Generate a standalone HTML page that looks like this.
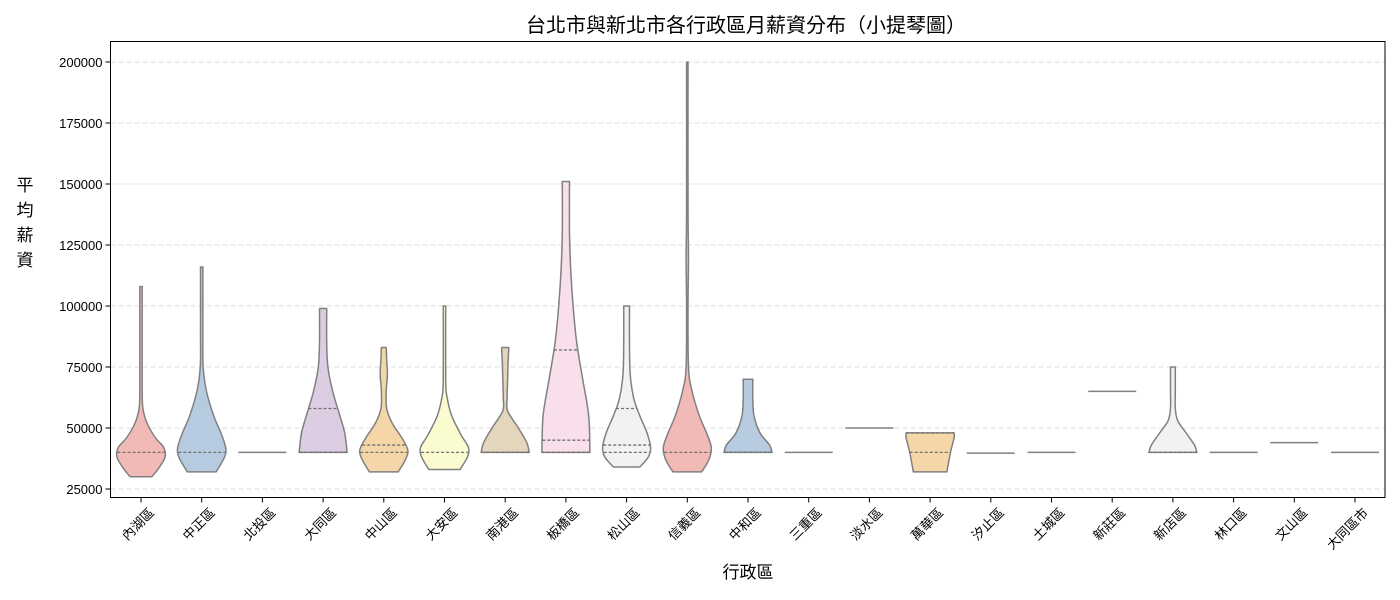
<!DOCTYPE html>
<html><head><meta charset="utf-8"><style>
body{margin:0;background:#fff;}
svg{display:block;font-family:"Liberation Sans","Noto Sans CJK TC",sans-serif;}
</style></head><body>
<svg id="chart" width="1400" height="600">
<text x="746" y="32" text-anchor="middle" font-size="20" fill="#000" font-family="'Noto Sans CJK TC',sans-serif">台北市與新北市各行政區月薪資分布（小提琴圖）</text>
<g font-size="17" fill="#000" text-anchor="middle">
<text x="25" y="191">平</text><text x="25" y="216">均</text><text x="25" y="241">薪</text><text x="25" y="266">資</text>
</g>
<text x="748" y="578" text-anchor="middle" font-size="17">行政區</text>
<g id="grid"></g><g id="violins"></g><g id="axes"></g>
</svg>
<script>
const categories=["內湖區","中正區","北投區","大同區","中山區","大安區","南港區","板橋區","松山區","信義區","中和區","三重區","淡水區","萬華區","汐止區","土城區","新莊區","新店區","林口區","文山區","大同區市"];
const yTicks=[25000,50000,75000,100000,125000,150000,175000,200000];
// density profiles: [salary, relative width]
const profiles=[
[[30000,.45],[33000,.7],[38000,1],[42000,.95],[46000,.6],[52000,.25],[58000,.08],[65000,.05],[80000,.05],[108000,.05]],
[[32000,.6],[38000,.95],[42000,1],[48000,.8],[55000,.5],[65000,.2],[75000,.06],[90000,.05],[116000,.05]],
[[40000,1]],
[[40000,1],[48000,.9],[55000,.7],[65000,.4],[75000,.2],[85000,.15],[99000,.15]],
[[32000,.6],[37000,.9],[41000,1],[46000,.75],[52000,.35],[58000,.12],[65000,.1],[72000,.15],[78000,.12],[83000,.1]],
[[33000,.65],[38000,.95],[42000,1],[47000,.7],[55000,.3],[63000,.1],[70000,.05],[100000,.05]],
[[40000,1],[44000,.9],[50000,.55],[57000,.1],[62000,.08],[70000,.1],[77000,.12],[83000,.15]],
[[40000,1],[55000,.95],[70000,.7],[85000,.45],[100000,.3],[115000,.2],[130000,.15],[151000,.15]],
[[34000,.55],[38000,.9],[42000,1],[48000,.85],[55000,.55],[62000,.3],[72000,.15],[85000,.12],[100000,.12]],
[[32000,.6],[37000,.9],[42000,1],[48000,.8],[55000,.5],[65000,.2],[75000,.05],[100000,.03],[120000,.05],[140000,.03],[200000,.03]],
[[40000,1],[43000,.9],[48000,.5],[55000,.25],[62000,.2],[70000,.2]],
[[40000,1]],[[50000,1]],
[[32000,.7],[40000,.85],[46000,1],[48000,1]],
[[39700,1]],[[40000,1]],[[65000,1]],
[[40000,1],[43000,.9],[48000,.55],[53000,.2],[58000,.1],[65000,.1],[75000,.1]],
[[40000,1]],[[44000,1]],[[40000,1]]
];
const quartiles=[[40000],[40000],[],[40000,58000],[40000,43000],[40000],[40000],[40000,45000,82000],[40000,43000,58000],[40000],[40000],[],[],[40000,48000],[],[],[],[40000],[],[],[]];
const colors=["#f2bab6","#b6cbe0","#cde6c8","#dccde2","#f5d6a8","#fbfbd0","#e3d6bc","#f8dfeb","#f2f2f2"];
const NS="http://www.w3.org/2000/svg";
const L=110.5,R=1385,T=41.5,B=497.5;
const xS=i=>141+i*60.7;
const yS=v=>62+(200000-v)*61/25000;
const HW=24;
function mk(t,a,p){const e=document.createElementNS(NS,t);for(const k in a)e.setAttribute(k,a[k]);p.appendChild(e);return e;}
function smooth(pts){ // catmull-rom -> bezier, pts [[x,y]]
 let d='';
 for(let i=0;i<pts.length-1;i++){
  const p0=pts[Math.max(0,i-1)],p1=pts[i],p2=pts[i+1],p3=pts[Math.min(pts.length-1,i+2)];
  const c1=[p1[0]+(p2[0]-p0[0])/6,p1[1]+(p2[1]-p0[1])/6];
  const c2=[p2[0]-(p3[0]-p1[0])/6,p2[1]-(p3[1]-p1[1])/6];
  d+=`C${c1[0]},${c1[1]} ${c2[0]},${c2[1]} ${p2[0]},${p2[1]}`;
 }
 return d;
}
const grid=document.getElementById('grid'),vg=document.getElementById('violins'),ax=document.getElementById('axes');
yTicks.forEach(v=>{
 const g=mk('line',{x1:L,x2:R,y1:yS(v),y2:yS(v),stroke:'#dcdcdc','stroke-dasharray':'5,3','stroke-width':1},grid);
 
 
 mk('line',{x1:L-5,x2:L,y1:yS(v),y2:yS(v),stroke:'#000'},ax);
 const t=mk('text',{x:L-8,y:yS(v)+5,'text-anchor':'end','font-size':13},ax);t.textContent=v;
 
 
});
categories.forEach((c,i)=>{
 const cx=xS(i),p=profiles[i];
 if(p.length===1){
  const l=mk('line',{x1:cx-HW,x2:cx+HW,y1:yS(p[0][0]),y2:yS(p[0][0]),stroke:'#808080','stroke-width':1.5},vg);
  
  
 } else {
  const right=p.map(q=>[cx+q[1]*HW,yS(q[0])]);
  const left=p.map(q=>[cx-q[1]*HW,yS(q[0])]).reverse();
  let d='M'+right[0][0]+','+right[0][1]+smooth(right)+'L'+left[0][0]+','+left[0][1]+smooth(left)+'Z';
  const pa=mk('path',{d:d,fill:colors[i%9],stroke:'#808080','stroke-width':1.5,'stroke-linejoin':'round'},vg);
  
  
  quartiles[i].forEach(v=>{
   let w=HW;for(let j=0;j<p.length-1;j++){if(v>=p[j][0]&&v<=p[j+1][0]){const f=(v-p[j][0])/(p[j+1][0]-p[j][0]);w=(p[j][1]+f*(p[j+1][1]-p[j][1]))*HW;}}
   if(v<p[0][0])w=p[0][1]*HW;
   const ql=mk('line',{x1:cx-w,x2:cx+w,y1:yS(v),y2:yS(v),stroke:'#707070','stroke-width':1.3,'stroke-dasharray':'3,2'},vg);
   
   
  });
 }
 mk('line',{x1:cx,x2:cx,y1:B,y2:B+5,stroke:'#000'},ax);
 const t=mk('text',{x:0,y:0,'text-anchor':'end','font-size':13,transform:`translate(${cx+14},${B+16}) rotate(-45)`},ax);
 t.textContent=c;
 
 
});
mk('rect',{x:L,y:T,width:R-L,height:B-T,fill:'none',stroke:'#000','stroke-width':1},ax);
</script>
</body></html>
